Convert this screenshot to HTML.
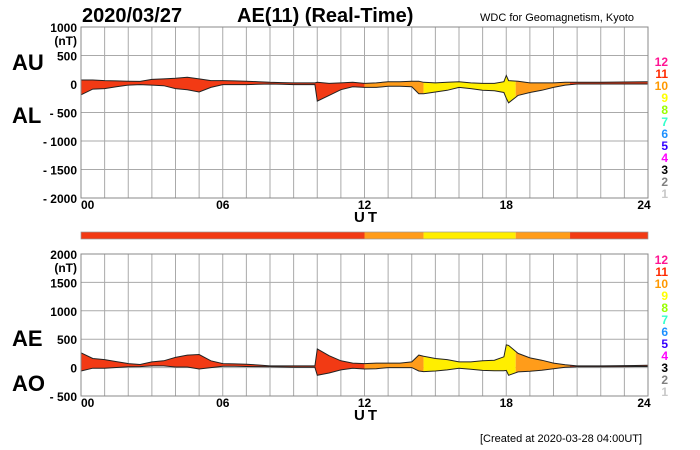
<!DOCTYPE html>
<html><head><meta charset="utf-8"><style>
body{margin:0;background:#fff;}
svg{display:block;font-family:"Liberation Sans",Arial,sans-serif;}
</style></head><body>
<svg id="chart" width="700" height="450">
<text x="82" y="22" font-size="20" font-weight="bold">2020/03/27</text>
<text x="237" y="22" font-size="20" font-weight="bold">AE(11) (Real-Time)</text>
<text x="480" y="21" font-size="11">WDC for Geomagnetism, Kyoto</text>
<text x="12" y="70" font-size="22" font-weight="bold">AU</text>
<text x="12" y="123" font-size="22" font-weight="bold">AL</text>
<text x="12" y="346" font-size="22" font-weight="bold">AE</text>
<text x="12" y="391" font-size="22" font-weight="bold">AO</text>
<text x="354" y="222" font-size="15" font-weight="bold" letter-spacing="3">UT</text>
<text x="354" y="420" font-size="15" font-weight="bold" letter-spacing="3">UT</text>
<text x="480" y="442" font-size="11">[Created at 2020-03-28 04:00UT]</text>
<g id="g"></g>
</svg>
<script>
const hours=[0,0.5,1,1.5,2,2.5,3,3.5,4,4.5,5,5.5,6,6.5,7,7.5,8,8.5,9,9.5,9.9,10,10.5,11,11.5,12,12.5,13,13.5,14,14.3,14.5,15,15.5,16,16.5,17,17.5,17.9,18,18.1,18.5,19,19.5,20,20.5,21,22,23,24];
const auVals=[70,70,60,55,50,45,80,90,100,120,90,60,60,55,50,40,30,25,20,20,20,30,10,20,30,10,20,40,40,50,50,30,20,30,40,20,10,10,40,150,60,50,20,20,20,30,30,30,35,40];
const alVals=[-190,-90,-80,-50,-20,-10,-20,-30,-80,-100,-140,-60,-10,-10,-10,-5,0,-5,-10,-10,-10,-300,-200,-100,-50,-60,-60,-40,-40,-50,-170,-170,-140,-110,-60,-80,-110,-120,-150,-250,-330,-200,-150,-110,-60,-20,0,0,0,0];
const segStart=[0,12,14.5,18.4,20.7];
const segEnd=[12,14.5,18.4,20.7,24];
const segColor=["#f23a14","#ff9c1a","#ffee00","#ff9c1a","#f23a14"];
const legendNums=["12","11","10","9","8","7","6","5","4","3","2","1"];
const legendColors=["#ff1493","#ff2a00","#ff9900","#ffff00","#99ff00","#33ffcc","#1e90ff","#3300ff","#ff00ff","#000000","#808080","#c8c8c8"];
const xTicks=["00","06","12","18","24"];
const topTicks=[1000,500,0,-500,-1000,-1500,-2000];
const botTicks=[2000,1500,1000,500,0,-500];

const NS="http://www.w3.org/2000/svg";
const g=document.getElementById("g");
function el(t,a,p){const e=document.createElementNS(NS,t);for(const k in a)e.setAttribute(k,a[k]);(p||g).appendChild(e);return e;}
const X0=81,X1=648;
const xs=h=>X0+(X1-X0)*h/24;
function panel(name,top,bot,vmax,vmin,ticks,upper,lower,legTop){
  const ys=v=>top+(bot-top)*(vmax-v)/(vmax-vmin);
  const grp=el("g",{});
  
  
  for(let h=0;h<=24;h++){el("line",{x1:xs(h),x2:xs(h),y1:top,y2:bot,stroke:"#aaa","stroke-width":1},grp);}
  ticks.forEach(v=>{el("line",{x1:X0,x2:X1,y1:ys(v),y2:ys(v),stroke:"#aaa","stroke-width":1},grp);
    const t=el("text",{x:77,y:ys(v)+5,"font-size":12,"font-weight":"bold","text-anchor":"end"},grp);
    t.textContent=v<0?"- "+(-v):String(v);
    
    });
  const nt=el("text",{x:77,y:ys(ticks[0])+18,"font-size":12,"font-weight":"bold","text-anchor":"end"},grp);nt.textContent="(nT)";
  
  
  let d="M"+hours.map((h,i)=>xs(h).toFixed(1)+","+ys(upper[i]).toFixed(1)).join("L");
  d+="L"+hours.map((h,i)=>xs(h).toFixed(1)+","+ys(lower[i]).toFixed(1)).reverse().join("L")+"Z";
  segStart.forEach((s,i)=>{
    const cid=name+"clip"+i;
    const cp=el("clipPath",{id:cid},grp);
    el("rect",{x:xs(s),y:top,width:xs(segEnd[i])-xs(s),height:bot-top},cp);
    const p=el("path",{d:d,fill:segColor[i],"clip-path":"url(#"+cid+")"},grp);
    
    
  });
  [upper,lower].forEach((arr,k)=>{
    const p=el("path",{d:"M"+hours.map((h,i)=>xs(h).toFixed(1)+","+ys(arr[i]).toFixed(1)).join("L"),fill:"none",stroke:"#222","stroke-width":1},grp);
    
    
  });
  el("rect",{x:X0,y:top,width:X1-X0,height:bot-top,fill:"none",stroke:"#888"},grp);
  xTicks.forEach((t,i)=>{const tx=el("text",{x:xs(i*6)+(i==4?-4:0),y:bot+11,"font-size":12,"font-weight":"bold","text-anchor":i==0?"start":"middle"},grp);tx.textContent=t;
    
    });
  legendNums.forEach((n,i)=>{const t=el("text",{x:668,y:legTop+i*12,"font-size":12,"font-weight":"bold","text-anchor":"end",fill:legendColors[i]},grp);t.textContent=n;
    
    });
}
panel("au-al",27,198,1000,-2000,topTicks,auVals,alVals,66);
const aeVals=auVals.map((u,i)=>u-alVals[i]);
const aoVals=auVals.map((u,i)=>(u+alVals[i])/2);
panel("ae-ao",254,396,2000,-500,botTicks,aeVals,aoVals,264);
segStart.forEach((s,i)=>{const r=el("rect",{x:xs(s),y:232,width:xs(segEnd[i])-xs(s),height:7,fill:segColor[i]});
  
  });
el("rect",{x:X0,y:232,width:X1-X0,height:7,fill:"none",stroke:"#999","stroke-width":0.7});
</script>
</body></html>
